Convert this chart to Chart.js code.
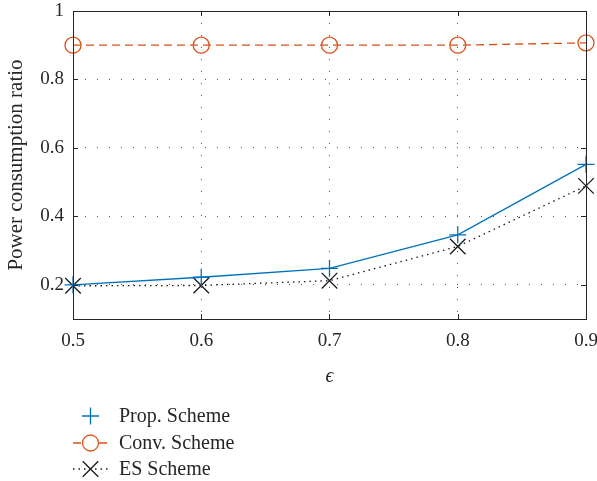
<!DOCTYPE html>
<html>
<head>
<meta charset="utf-8">
<script src="https://cdn.jsdelivr.net/npm/chart.js@4/dist/chart.umd.min.js"></script>
<style>
  html, body { margin: 0; padding: 0; background: #fff; }
  #wrap { width: 597px; height: 481px; position: relative; }
</style>
</head>
<body>
<div id="wrap"><canvas id="chart"></canvas></div>
<script>
const epsilon = [0.5, 0.6, 0.7, 0.8, 0.9];
const propScheme = [0.200, 0.222, 0.248, 0.346, 0.552];
const convScheme = [0.900, 0.900, 0.900, 0.900, 0.907];
const esScheme = [0.197, 0.198, 0.212, 0.312, 0.489];
const xTicks = [0.5, 0.6, 0.7, 0.8, 0.9];
const yTicks = [0.2, 0.4, 0.6, 0.8, 1];

const FONT = "'Liberation Serif', 'DejaVu Serif', serif";
const TEXT = "#262626";
const GRID = "#555";

function toPoints(values) {
  return epsilon.map((x, i) => ({ x, y: values[i] }));
}

const series = [
  {
    label: "Prop. Scheme",
    data: toPoints(propScheme),
    borderColor: "#0072BD",
    borderWidth: 1.3,
    borderDash: [],
    pointStyle: "cross",
    pointRadius: 8.5,
    pointBorderWidth: 1.3,
    legendLine: false
  },
  {
    label: "Conv. Scheme",
    data: toPoints(convScheme),
    borderColor: "#D95319",
    borderWidth: 1.3,
    borderDash: [8, 5],
    pointStyle: "circle",
    pointRadius: 8,
    pointBorderWidth: 1.3,
    legendLine: true
  },
  {
    label: "ES Scheme",
    data: toPoints(esScheme),
    borderColor: "#1a1a1a",
    borderWidth: 1.3,
    borderDash: [1.5, 4],
    pointStyle: "crossRot",
    pointRadius: 11,
    pointBorderWidth: 1.3,
    legendLine: true
  }
];

const frame = {
  id: "frame",
  afterDatasetsDraw(chart) {
    const { ctx, chartArea: a, scales } = chart;
    ctx.save();
    ctx.strokeStyle = "#262626";
    ctx.lineWidth = 1;
    ctx.setLineDash([]);
    ctx.strokeRect(Math.round(a.left) + 0.5, Math.round(a.top) + 0.5,
      Math.round(a.right - a.left), Math.round(a.bottom - a.top));
    // small inward ticks
    xTicks.forEach((v) => {
      const x = Math.round(scales.x.getPixelForValue(v)) + 0.5;
      ctx.beginPath();
      ctx.moveTo(x, a.bottom); ctx.lineTo(x, a.bottom - 5);
      ctx.moveTo(x, a.top); ctx.lineTo(x, a.top + 5);
      ctx.stroke();
    });
    yTicks.forEach((v) => {
      const y = Math.round(scales.y.getPixelForValue(v)) + 0.5;
      ctx.beginPath();
      ctx.moveTo(a.left, y); ctx.lineTo(a.left + 5, y);
      ctx.moveTo(a.right, y); ctx.lineTo(a.right - 5, y);
      ctx.stroke();
    });
    ctx.restore();
  },
  afterDraw(chart) {
    const { ctx } = chart;
    const rows = [416, 443, 469];
    ctx.save();
    series.forEach((s, i) => {
      const y = rows[i];
      ctx.strokeStyle = s.borderColor;
      ctx.lineWidth = s.borderWidth;
      if (s.legendLine) {
        ctx.setLineDash(s.borderDash);
        ctx.beginPath();
        ctx.moveTo(73, y); ctx.lineTo(108, y);
        ctx.stroke();
      }
      ctx.setLineDash([]);
      ctx.fillStyle = "#ffffff";
      Chart.helpers.drawPoint(ctx, {
        pointStyle: s.pointStyle,
        radius: s.pointRadius,
        rotation: 0,
        borderWidth: s.pointBorderWidth
      }, 90.5, y);
      ctx.fillStyle = TEXT;
      ctx.font = "20px " + FONT;
      ctx.textBaseline = "middle";
      ctx.textAlign = "left";
      ctx.fillText(s.label, 119, y + 1);
    });
    ctx.restore();
  }
};

new Chart(document.getElementById("chart"), {
  type: "line",
  data: {
    datasets: series.map((s) => ({
      ...s,
      backgroundColor: "rgba(0,0,0,0)",
      pointBackgroundColor: "rgba(0,0,0,0)",
      pointBorderColor: s.borderColor,
      fill: false,
      tension: 0,
      clip: false
    }))
  },
  options: {
    responsive: true,
    maintainAspectRatio: false,
    animation: false,
    layout: { autoPadding: false, padding: { top: 0, right: 0, left: 0, bottom: 90 } },
    plugins: { legend: { display: false }, tooltip: { enabled: false } },
    scales: {
      x: {
        type: "linear",
        min: 0.5,
        max: 0.9,
        afterBuildTicks: (scale) => { scale.ticks = xTicks.map((v) => ({ value: v })); },
        afterFit: (scale) => {
          scale.height = 72;
          scale.paddingLeft = 0;
          scale.paddingRight = 11;
        },
        ticks: {
          padding: 11,
          color: TEXT,
          font: { family: FONT, size: 19 },
          maxRotation: 0,
          callback: (v) => String(v)
        },
        grid: {
          drawTicks: false,
          color: (c) => (c.tick && (c.tick.value === 0.5 || c.tick.value === 0.9)) ? "rgba(0,0,0,0)" : GRID,
          lineWidth: 1
        },
        border: { display: false, dash: [1, 11] },
        title: {
          display: true,
          text: "ϵ",
          color: TEXT,
          font: { family: FONT, size: 20, style: "italic" },
          padding: { top: 0, bottom: 2 }
        }
      },
      y: {
        min: 0.1,
        max: 1,
        afterBuildTicks: (scale) => { scale.ticks = yTicks.map((v) => ({ value: v })); },
        afterFit: (scale) => {
          scale.width = 73;
          scale.paddingTop = 11;
          scale.paddingBottom = 0;
        },
        ticks: {
          padding: 9,
          color: TEXT,
          font: { family: FONT, size: 19 },
          callback: (v) => String(v)
        },
        grid: {
          drawTicks: false,
          color: (c) => (c.tick && c.tick.value === 1) ? "rgba(0,0,0,0)" : GRID,
          lineWidth: 1
        },
        border: { display: false, dash: [1, 11] },
        title: {
          display: true,
          text: "Power consumption ratio",
          color: TEXT,
          font: { family: FONT, size: 21 },
          padding: { top: 4, bottom: 0 }
        }
      }
    }
  },
  plugins: [frame]
});
</script>
</body>
</html>
